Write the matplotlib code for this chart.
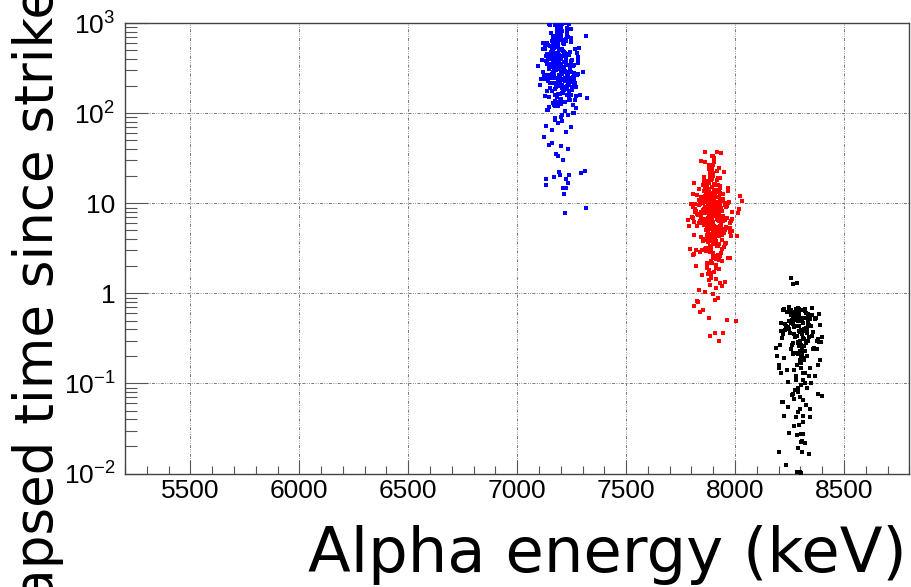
import numpy as np
import matplotlib
matplotlib.use("Agg")
import matplotlib.pyplot as plt
from matplotlib.ticker import MultipleLocator, LogLocator, NullFormatter

# ---------------- data ----------------
blue_energy = [
    7185, 7210, 7162, 7231, 7198, 7144, 7176, 7252, 7203, 7189,
    7168, 7221, 7195, 7139, 7240, 7182, 7207, 7157, 7228, 7191,
    7173, 7214, 7150, 7199, 7262, 7186, 7165, 7236, 7204, 7178,
    7127, 7218, 7193, 7246, 7160, 7209, 7184, 7171, 7225, 7197,
    7154, 7233, 7188, 7166, 7212, 7201, 7143, 7257, 7180, 7194,
    7219, 7170, 7206, 7135, 7238, 7187, 7159, 7229, 7196, 7175,
    7248, 7181, 7215, 7148, 7202, 7190, 7163, 7243, 7177, 7223,
    7192, 7152, 7211, 7183, 7268, 7169, 7205, 7137, 7226, 7199,
    7179, 7216, 7158, 7234, 7186, 7200, 7146, 7255, 7172, 7208,
    7194, 7161, 7239, 7183, 7220, 7131, 7197, 7174, 7213, 7249,
    7167, 7203, 7189, 7155, 7230, 7178, 7217, 7141, 7196, 7260,
    7185, 7207, 7164, 7224, 7192, 7151, 7241, 7176, 7210, 7198,
    7122, 7181, 7227, 7169, 7204, 7245, 7188, 7156, 7219, 7193,
    7173, 7236, 7199, 7147, 7212, 7184, 7265, 7166, 7201, 7229,
    7190, 7153, 7222, 7180, 7206, 7138, 7247, 7195, 7171, 7215,
    7178, 7189, 7160, 7146, 7200, 7234, 7212, 7193, 7196, 7237,
    7168, 7212, 7222, 7235, 7223, 7131, 7131, 7217, 7221, 7315,
    7295, 7310, 7160, 7205, 7245, 7172, 7185, 7205, 7222, 7236,
    7095, 7314, 7320, 7287, 7110, 7280, 7118, 7300, 7275, 7105,
    7198, 7182, 7215, 7164, 7230, 7190, 7208, 7175, 7243, 7201,
    7142, 7226, 7181, 7264, 7119, 7203, 7250, 7159, 7232, 7187,
    7275, 7134, 7198, 7245, 7171, 7217, 7126, 7259, 7192, 7148,
    7209, 7167, 7281, 7140, 7223, 7185, 7254, 7130, 7201, 7238,
    7155, 7272, 7196, 7121, 7244, 7178, 7216, 7163, 7267, 7205,
    7133, 7228, 7186, 7251, 7145, 7211, 7176, 7278, 7124, 7195,
    7240, 7161, 7219, 7137, 7258, 7183, 7230, 7150, 7206, 7271,
    7128, 7197, 7263, 7174, 7221, 7143, 7247, 7189, 7116, 7235,
    7168, 7284, 7202, 7149, 7227, 7179, 7256, 7136, 7213, 7191,
    7261, 7158, 7233, 7120, 7207, 7174, 7242, 7165, 7279, 7196,
    7139, 7218, 7182, 7253, 7129, 7199, 7237, 7170, 7225, 7152,
]
blue_time = [
    320, 185, 540, 260, 410, 150, 690, 230, 350, 120,
    280, 470, 205, 610, 175, 380, 95, 250, 730, 310,
    160, 430, 270, 840, 220, 135, 500, 340, 190, 620,
    240, 105, 390, 290, 560, 170, 920, 215, 360, 145,
    480, 260, 78, 330, 650, 200, 425, 125, 300, 760,
    185, 550, 235, 370, 140, 990, 275, 455, 165, 88,
    345, 210, 590, 255, 130, 405, 680, 225, 315, 62,
    440, 190, 305, 870, 155, 265, 520, 110, 375, 240,
    580, 290, 175, 710, 230, 398, 118, 335, 960, 205,
    265, 640, 148, 420, 295, 72, 510, 245, 180, 385,
    350, 128, 460, 220, 805, 195, 330, 570, 250, 100,
    415, 168, 285, 670, 212, 950, 310, 138, 490, 255,
    55, 365, 200, 530, 272, 160, 405, 780, 228, 340,
    188, 445, 90, 315, 600, 250, 142, 395, 700, 275,
    505, 215, 355, 122, 430, 178, 860, 262, 325, 480,
    35, 34, 47, 45, 43, 40, 30, 22.5, 20.5, 20.5,
    19.8, 15, 14.7, 17, 18.6, 18.6, 16.1, 12.7, 7.9, 8.8,
    21.8, 23.0, 66, 82, 70, 990, 985, 975, 995, 970,
    335, 720, 149, 160, 240, 380, 520, 290, 470, 205,
    260, 415, 195, 720, 345, 230, 505, 135, 298, 880,
    230, 410, 150, 520, 290, 760, 180, 345, 95, 610,
    265, 430, 200, 680, 125, 370, 560, 240, 890, 310,
    175, 450, 275, 110, 640, 220, 395, 155, 500, 285,
    350, 195, 720, 260, 140, 465, 305, 585, 215, 820,
    380, 160, 540, 245, 990, 330, 120, 420, 270, 660,
    205, 490, 135, 360, 255, 730, 185, 445, 300, 115,
    575, 225, 340, 85, 470, 270, 625, 165, 390, 235,
    315, 530, 145, 405, 880, 250, 100, 355, 190, 695,
    280, 440, 210, 600, 170, 325, 480, 130, 365, 940,
    455, 245, 780, 195, 515, 295, 160, 400, 235, 560,
]

red_energy = [
    7895, 7872, 7910, 7888, 7935, 7861, 7902, 7918, 7879, 7944,
    7890, 7853, 7926, 7899, 7868, 7913, 7884, 7952, 7876, 7906,
    7842, 7897, 7920, 7864, 7893, 7881, 7938, 7904, 7870, 7915,
    7886, 7929, 7857, 7900, 7947, 7875, 7911, 7866, 7892, 7833,
    7908, 7880, 7923, 7894, 7858, 7917, 7887, 7940, 7873, 7901,
    7864, 7912, 7889, 7931, 7878, 7903, 7850, 7896, 7921, 7883,
    7927, 7869, 7898, 7885, 7956, 7891, 7862, 7914, 7877, 7905,
    7881, 7936, 7903, 7846, 7918, 7890, 7874, 7925, 7898, 7867,
    7914, 7888, 7859, 7932, 7895, 7871, 7909, 7883, 7948, 7900,
    7876, 7905, 7928, 7865, 7891, 7919, 7838, 7897, 7882, 7943,
    7902, 7880, 7916, 7855, 7934, 7893, 7869, 7911, 7887, 7924,
    7887, 7960, 7873, 7906, 7849, 7896, 7921, 7879, 7937, 7892,
    7868, 7910, 7895, 7926, 7863, 7901, 7884, 7942, 7875, 7913,
    7929, 7877, 7898, 7852, 7918, 7889, 7907, 7866, 7935, 7885,
    7894, 7939, 7861, 7911, 7882, 7927, 7899, 7844, 7917, 7903,
    7873, 7904, 7930, 7888, 7911, 7857, 7921, 7896, 7880, 7949,
    7909, 7867, 7892, 7945, 7876, 7902, 7886, 7919, 7858, 7931,
    7885, 7915, 7870, 7898, 7926, 7840, 7905, 7933, 7878, 7912,
    7900, 7862, 7928, 7881, 7953, 7893, 7872, 7916, 7890, 7864,
    7920, 7884, 7907, 7874, 7899, 7938, 7860, 7896, 7923, 7887,
    7861, 7918, 7937, 7893, 7897, 7861, 7845, 7880, 7905, 7925,
    7870, 7905, 7850, 7930, 7885, 7915, 7860, 7900, 7880, 7940,
    7826, 7830, 7908, 7812, 7853, 7841, 7880, 7965, 8006, 7906,
    7945, 7884, 7926, 7920, 7835, 7955, 7820, 7975, 7812, 7890,
    8015, 7790, 8025, 7800, 8010, 7785, 8020, 7795, 8030, 7808,
    7812, 7958, 7889, 7834, 7972, 7905, 7848, 7930, 7866, 7987,
    7921, 7805, 7880, 7946, 7857, 7898, 7969, 7825, 7912, 7871,
    7839, 7903, 7981, 7862, 7924, 7818, 7950, 7886, 7845, 7934,
    7966, 7877, 7828, 7915, 7891, 7976, 7852, 7940, 7809, 7899,
    7883, 7944, 7820, 7907, 7960, 7868, 7927, 7843, 7985, 7892,
    7815, 7936, 7874, 7957, 7831, 7919, 7885, 7974, 7855, 7910,
    7948, 7826, 7896, 7963, 7860, 7929, 7803, 7901, 7941, 7879,
    7869, 7983, 7837, 7922, 7893, 7954, 7816, 7908, 7872, 7967,
    7925, 7850, 7979, 7887, 7811, 7943, 7864, 7931, 7897, 7822,
    7881, 7956, 7842, 7913, 7970, 7876, 7933, 7807, 7890, 7952,
    7859, 7917, 7988, 7835, 7902, 7946, 7867, 7824, 7938, 7884,
    7975, 7847, 7906, 7862, 7961, 7894, 7814, 7927, 7879, 7942,
]
red_time = [
    7.2, 4.5, 11.8, 3.1, 8.9, 15.5, 5.6, 2.4, 9.8, 6.3,
    13.2, 3.8, 7.7, 21.5, 5.1, 10.4, 2.9, 6.8, 17.9, 4.2,
    8.1, 12.6, 3.4, 6.0, 25.8, 9.2, 4.8, 14.1, 2.2, 7.5,
    5.4, 19.3, 8.6, 3.6, 11.1, 6.6, 1.9, 13.8, 4.0, 9.5,
    16.4, 7.0, 2.7, 10.1, 5.8, 23.0, 3.3, 8.3, 12.2, 4.6,
    6.1, 2.05, 9.0, 14.8, 5.0, 7.9, 3.0, 18.6, 6.9, 10.9,
    4.3, 12.9, 7.4, 1.7, 9.6, 5.3, 16.9, 3.7, 8.0, 28.5,
    11.5, 5.9, 2.6, 7.1, 13.5, 4.1, 9.3, 6.4, 20.4, 3.2,
    8.7, 1.55, 10.6, 5.5, 15.1, 3.9, 7.6, 12.0, 4.7, 6.2,
    17.4, 8.4, 3.5, 11.3, 2.3, 6.7, 9.9, 4.4, 14.4, 5.2,
    7.3, 24.2, 4.9, 10.0, 2.8, 13.0, 6.5, 8.8, 3.35, 19.0,
    5.7, 9.4, 2.1, 12.4, 7.8, 4.25, 16.0, 6.05, 10.7, 3.05,
    14.6, 4.65, 8.2, 1.85, 11.7, 5.35, 22.1, 7.0, 3.75, 9.1,
    6.35, 13.3, 2.5, 8.55, 4.85, 18.2, 3.55, 10.3, 5.95, 7.65,
    12.3, 3.15, 6.75, 15.8, 4.35, 9.7, 2.65, 11.9, 5.45, 30.5,
    8.15, 4.05, 10.8, 6.15, 1.45, 13.7, 7.25, 3.85, 17.0, 5.15,
    9.35, 2.95, 6.85, 12.8, 4.55, 8.45, 20.9, 3.45, 11.4, 5.65,
    7.55, 14.2, 4.15, 9.75, 2.35, 6.45, 16.5, 5.25, 10.2, 3.65,
    26.5, 8.65, 4.95, 11.6, 6.55, 2.15, 13.9, 7.85, 3.95, 9.05,
    5.05, 18.9, 7.15, 1.65, 10.5, 4.45, 15.2, 6.25, 8.95, 3.25,
    37.4, 37.0, 36.5, 34, 33.5, 29, 29.5, 27, 32, 24.5,
    1.9, 1.75, 1.6, 1.3, 1.25, 1.15, 1.05, 0.98, 1.4, 1.2,
    0.83, 0.80, 0.85, 0.72, 0.65, 0.62, 0.53, 0.51, 0.50, 0.36,
    0.36, 0.34, 0.30, 0.90, 1.1, 1.35, 2.0, 2.45, 2.75, 1.5,
    7.9, 5.6, 12.1, 9.8, 4.3, 6.6, 8.6, 3.1, 10.5, 6.9,
    6.2, 9.1, 3.4, 14.5, 5.3, 11.2, 7.8, 2.6, 17.3, 4.9,
    8.4, 12.7, 4.1, 6.9, 19.8, 3.7, 10.1, 5.6, 7.3, 15.2,
    2.9, 9.6, 6.4, 12.1, 4.4, 8.0, 22.5, 3.2, 11.5, 5.9,
    13.6, 4.7, 7.6, 2.4, 10.7, 6.1, 16.2, 3.9, 9.2, 5.0,
    20.8, 7.1, 3.0, 11.9, 5.4, 8.8, 14.0, 4.2, 6.7, 2.2,
    9.9, 5.7, 13.1, 3.6, 7.4, 18.4, 4.6, 10.4, 6.0, 8.2,
    3.3, 12.4, 6.5, 9.4, 4.0, 15.7, 7.0, 2.8, 11.0, 5.2,
    7.9, 4.3, 10.9, 6.6, 24.1, 3.5, 8.6, 13.4, 5.5, 2.5,
    11.7, 6.3, 4.8, 9.0, 16.8, 7.2, 3.1, 12.9, 5.8, 8.3,
    4.5, 10.0, 7.5, 3.8, 14.8, 6.8, 9.7, 2.7, 12.0, 5.1,
    17.6, 3.4, 8.1, 6.0, 10.6, 4.9, 13.8, 7.7, 2.3, 9.3,
    5.3, 11.3, 3.9, 8.7, 6.9, 21.3, 4.4, 10.3, 1.8, 7.0,
]

black_energy = [
    8296, 8272, 8318, 8285, 8307, 8260, 8330, 8292, 8279, 8345,
    8302, 8268, 8289, 8336, 8251, 8311, 8283, 8298, 8324, 8262,
    8281, 8305, 8340, 8274, 8293, 8316, 8255, 8328, 8288, 8300,
    8312, 8287, 8266, 8299, 8322, 8278, 8349, 8294, 8258, 8308,
    8276, 8301, 8333, 8290, 8264, 8314, 8284, 8320, 8297, 8270,
    8326, 8280, 8303, 8248, 8310, 8291, 8273, 8338, 8263, 8295,
    8287, 8252, 8313, 8299, 8276, 8329, 8267, 8306, 8282, 8342,
    8294, 8319, 8271, 8302, 8286, 8256, 8335, 8279, 8309, 8231,
    8290, 8320, 8262, 8305, 8275, 8312, 8245, 8298, 8282, 8330,
    8217, 8300, 8279, 8265, 8312, 8327, 8288, 8295, 8242, 8270,
    8204, 8235, 8286, 8298, 8303, 8306, 8338, 8323, 8291, 8303,
    8308, 8250, 8285, 8301, 8310, 8270, 8310, 8226, 8218, 8344,
    8258, 8265, 8284, 8345, 8383, 8400, 8200, 8390, 8210, 8380,
    8250, 8285, 8320, 8355, 8190, 8400, 8195, 8385, 8210, 8375,
    8215, 8352, 8268, 8389, 8240, 8322, 8293, 8206, 8366, 8281,
    8334, 8227, 8305, 8378, 8259, 8312, 8244, 8360, 8287, 8220,
    8299, 8372, 8236, 8318, 8275, 8351, 8212, 8341, 8264, 8385,
    8248, 8328, 8291, 8203, 8357, 8270, 8316, 8232, 8369, 8284,
    8307, 8223, 8346, 8261, 8393, 8295, 8238, 8331, 8273, 8354,
    8229, 8362, 8289, 8317, 8246, 8382, 8266, 8303, 8219, 8338,
]
black_time = [
    0.55, 0.42, 0.31, 0.62, 0.25, 0.48, 0.36, 0.68, 0.22, 0.52,
    0.39, 0.58, 0.28, 0.45, 0.66, 0.19, 0.34, 0.50, 0.60, 0.27,
    0.44, 0.15, 0.57, 0.33, 0.64, 0.40, 0.24, 0.53, 0.69, 0.30,
    0.47, 0.21, 0.61, 0.37, 0.13, 0.56, 0.43, 0.26, 0.65, 0.35,
    0.51, 0.17, 0.59, 0.29, 0.46, 0.11, 0.63, 0.38, 0.23, 0.54,
    0.41, 0.67, 0.20, 0.49, 0.32, 0.60, 0.14, 0.45, 0.57, 0.26,
    0.09, 0.36, 0.53, 0.18, 0.62, 0.40, 0.28, 0.50, 0.12, 0.44,
    0.58, 0.23, 0.35, 0.66, 0.16, 0.47, 0.30, 0.55, 0.21, 0.39,
    0.08, 0.10, 0.075, 0.095, 0.085, 0.065, 0.105, 0.07, 0.12, 0.09,
    0.062, 0.052, 0.042, 0.077, 0.044, 0.058, 0.048, 0.035, 0.055, 0.068,
    0.0174, 0.0123, 0.0105, 0.0103, 0.0102, 0.0174, 0.0166, 0.0217, 0.019, 0.0223,
    0.0232, 0.028, 0.027, 0.0275, 0.0278, 0.034, 0.037, 0.0435, 0.0617, 0.052,
    1.47, 1.26, 1.32, 0.042, 0.077, 0.072, 0.15, 0.18, 0.13, 0.16,
    0.70, 0.68, 0.67, 0.69, 0.25, 0.33, 0.20, 0.29, 0.38, 0.24,
    0.32, 0.58, 0.21, 0.45, 0.14, 0.63, 0.38, 0.27, 0.52, 0.11,
    0.48, 0.19, 0.66, 0.30, 0.57, 0.13, 0.42, 0.24, 0.69, 0.35,
    0.17, 0.54, 0.41, 0.26, 0.61, 0.10, 0.47, 0.33, 0.22, 0.59,
    0.64, 0.28, 0.50, 0.16, 0.37, 0.60, 0.23, 0.44, 0.12, 0.56,
    0.39, 0.67, 0.15, 0.51, 0.29, 0.43, 0.62, 0.20, 0.53, 0.34,
    0.46, 0.25, 0.68, 0.18, 0.40, 0.31, 0.55, 0.27, 0.65, 0.12,
]

x_ticks = [5500, 6000, 6500, 7000, 7500, 8000, 8500]
x_tick_labels = ["5500", "6000", "6500", "7000", "7500", "8000", "8500"]
y_ticks = [1e-2, 1e-1, 1, 10, 1e2, 1e3]
y_tick_labels = [r"$10^{-2}$", r"$10^{-1}$", "1", "10", r"$10^{2}$", r"$10^{3}$"]
x_label = "Alpha energy (keV)"
y_label = "Elapsed time since strike"

# ---------------- styling ----------------
plt.rcParams["mathtext.fontset"] = "custom"
plt.rcParams["mathtext.rm"] = "Liberation Sans"
plt.rcParams["mathtext.it"] = "Liberation Sans:italic"
plt.rcParams["mathtext.bf"] = "Liberation Sans:bold"
plt.rcParams["font.family"] = ["Liberation Sans", "DejaVu Sans"]

W, H = 912, 587
fig = plt.figure(figsize=(W / 100, H / 100), dpi=100)
left, right, top, bottom = 125, 909.3, 23.3, 473.5
ax = fig.add_axes([left / W, 1 - bottom / H, (right - left) / W, (bottom - top) / H])

series = [
    (blue_energy, blue_time, "#0000ff"),
    (red_energy, red_time, "#ff0000"),
    (black_energy, black_time, "#000000"),
]
for e, t, c in series:
    ax.plot(e, t, ls="none", marker="s", ms=2.3, mew=0, color=c, zorder=3)

ax.set_yscale("log")
ax.set_xlim(5200, 8800)
ax.set_ylim(1e-2, 1e3)

ax.set_xticks(x_ticks)
ax.set_xticklabels(x_tick_labels)
ax.xaxis.set_minor_locator(MultipleLocator(100))
ax.set_yticks(y_ticks)
ax.set_yticklabels(y_tick_labels)
ax.yaxis.set_minor_locator(LogLocator(base=10, subs=np.arange(2, 10)))
ax.yaxis.set_minor_formatter(NullFormatter())

tick_col = "#555555"
ax.tick_params(axis="both", which="both", direction="in", top=False, right=False,
               color=tick_col, labelcolor="black")
ax.tick_params(axis="y", which="major", length=16.5, width=0.8, pad=7, labelsize=19)
ax.tick_params(axis="y", which="minor", length=8.4, width=0.8)
ax.tick_params(axis="x", which="major", length=10.3, width=0.8, pad=4, labelsize=19)
ax.tick_params(axis="x", which="minor", length=5.5, width=0.8)
for sp in ax.spines.values():
    sp.set_color("#444444")
    sp.set_linewidth(1.0)

ax.grid(True, which="major", color="#777777", lw=0.7,
        ls=(0, (3, 1.5, 0.8, 1.5, 0.8, 1.5)), zorder=0)
ax.set_axisbelow(True)

fig.text(906.7 / W, 1 - 571.7 / H, x_label, ha="right", va="baseline",
         fontsize=45.0, family="DejaVu Sans")
fig.text(53 / W, 1 - 649 / H, y_label, rotation=90, rotation_mode="anchor",
         ha="left", va="baseline", fontsize=38.2, family="DejaVu Sans")

fig.savefig("out.png", dpi=100)
